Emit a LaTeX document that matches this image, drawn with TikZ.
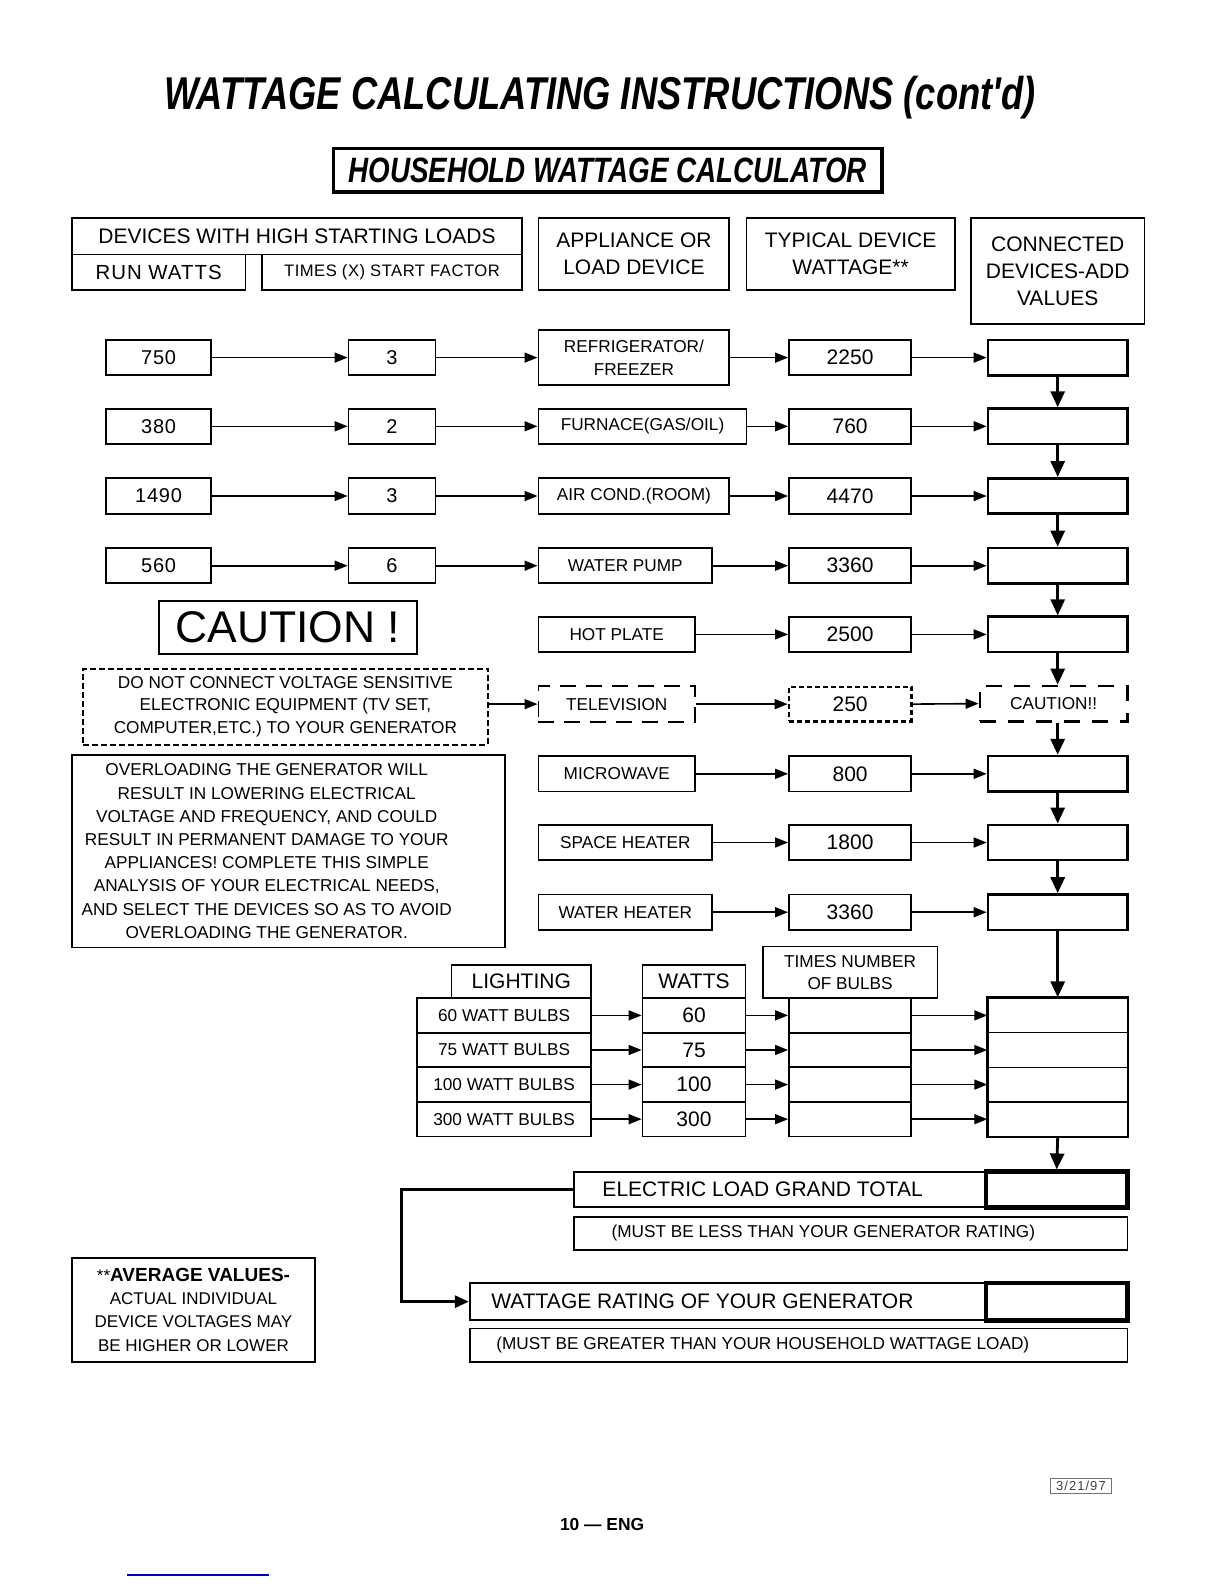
\documentclass[tikz,border=0pt]{standalone}
\usepackage{fontspec}
\usepackage{graphicx}
\setmainfont{Liberation Sans}
\usetikzlibrary{arrows.meta}
\newcommand\fs[2]{\fontsize{#1}{#2}\selectfont}
\newcommand\mybox[7][]{\node[box,minimum width={((#5)-(#3))*0.50495pt},minimum height={((#6)-(#4))*0.50495pt},#1] (#2) at ({((#3)+(#5))/2},{((#4)+(#6))/2}) {#7};}
\tikzset{
  box/.style={draw, line width=0.9pt, inner sep=0pt, align=center, font=\fs{10.5}{13.6}},
  sbox/.style={font=\fs{8.6}{11.2}},
  numbox/.style={font=\fs{10}{12}\addfontfeature{LetterSpace=4}},
  sumbox/.style={line width=1.3pt},
  heavy/.style={line width=2.4pt},
  txt/.style={inner sep=0pt, align=center},
  arr/.style={-{Triangle[length=6.5pt,width=5pt]}, line width=0.8pt},
  varr/.style={-{Triangle[length=8pt,width=7pt]}, line width=1.4pt},
  garr/.style={-{Triangle[length=7pt,width=6pt]}, line width=1.5pt},
}
\newcommand\devrow[5]{%
  \mybox[sbox]{app#1}{533}{#2-17.5}{#3}{#2+17.5}{#4}
  \mybox{wat#1}{781}{#2-17.5}{902}{#2+17.5}{#5}
  \mybox[sumbox]{sum#1}{978}{#2-17.5}{1116}{#2+17.5}{}
  \draw[arr] (app#1.east) -- (wat#1.west);
  \draw[arr] (wat#1.east) -- (sum#1.west);}
\newcommand\runrow[4]{%
  \mybox[numbox]{run#1}{105}{#2-17.5}{209}{#2+17.5}{#3}
  \mybox[numbox]{fac#1}{345}{#2-17.5}{431}{#2+17.5}{#4}
  \draw[arr] (run#1.east) -- (fac#1.west);
  \draw[arr] (fac#1.east) -- (app#1.west |- fac#1.east);}
\begin{document}
\begin{tikzpicture}[x=0.50495pt,y=-0.50495pt]
\useasboundingbox (0,0) rectangle (1212,1568);
% titles
\node[txt, font=\fs{23}{27}\bfseries\itshape] (title) at (594,97) {\scalebox{0.79}[1]{WATTAGE CALCULATING INSTRUCTIONS (cont\textquotesingle d)}};
\node[draw, line width=1.6pt, inner sep=0pt, minimum width={543*0.50495pt}, minimum height={43*0.50495pt}, font=\fs{17.6}{20}\bfseries\itshape] (sub) at (601.5,168.5) {\scalebox{0.79}[1]{HOUSEHOLD WATTAGE CALCULATOR}};
% headers
\mybox{hdev}{71}{216}{517}{252}{DEVICES WITH HIGH STARTING LOADS}
\mybox[font=\fs{10.2}{12}\addfontfeature{LetterSpace=5}]{hrun}{71}{252}{243}{287}{RUN WATTS}
\mybox[font=\fs{8.3}{10}\addfontfeature{LetterSpace=3}]{htimes}{259}{252}{517}{287}{TIMES (X) START FACTOR}
\mybox{happ}{533}{216}{722}{287}{APPLIANCE OR\\LOAD DEVICE}
\mybox{htyp}{739}{216}{945}{287}{TYPICAL DEVICE\\WATTAGE**}
\mybox{hcon}{961}{216}{1133}{321}{CONNECTED\\DEVICES-ADD\\VALUES}
% device rows
\mybox[sbox]{app1}{533}{327}{722}{381}{REFRIGERATOR/\\FREEZER}
\mybox{wat1}{781}{336.5}{902}{371.5}{2250}
\mybox[sumbox]{sum1}{978}{336.5}{1116}{371.5}{}
\draw[arr] (app1.east) -- (wat1.west);
\draw[arr] (wat1.east) -- (sum1.west);
\devrow{2}{422}{739}{FURNACE(GAS/OIL)}{760}
\devrow{3}{491}{722}{AIR COND.(ROOM)}{4470}
\devrow{4}{560}{705}{WATER PUMP}{3360}
\devrow{5}{628}{688}{HOT PLATE}{2500}
\devrow{7}{766}{688}{MICROWAVE}{800}
\devrow{8}{834}{705}{SPACE HEATER}{1800}
\devrow{9}{903}{705}{WATER HEATER}{3360}
% television row (dashed)
\mybox[sbox, dash pattern=on 8pt off 5pt]{app6}{533}{679}{688}{715}{TELEVISION}
\mybox[line width=1.3pt, dash pattern=on 2.5pt off 1.5pt]{wat6}{781}{680}{902}{714}{250}
\mybox[sbox, line width=1.3pt, dash pattern=on 8pt off 6pt]{sum6}{970}{679}{1116}{714}{CAUTION!!}
\draw[arr] (app6.east) -- (wat6.west);
\draw[arr] (wat6.east) -- (sum6.west);
\runrow{1}{354}{750}{3}
\runrow{2}{422}{380}{2}
\runrow{3}{491}{1490}{3}
\runrow{4}{560}{560}{6}
% vertical chain
\foreach \i/\j in {1/2,2/3,3/4,4/5,5/6,6/7,7/8,8/9}
  \draw[varr] (sum\i.south -| sum1.south) -- (sum1.south |- sum\j.north);
% caution
\mybox[font=\fs{22.2}{26}]{caution}{157}{595}{413}{647}{CAUTION !}
\mybox[sbox, line width=1pt, dash pattern=on 3pt off 1.5pt]{warn}{82}{662}{483}{737}{DO NOT CONNECT VOLTAGE SENSITIVE\\ELECTRONIC EQUIPMENT (TV SET,\\COMPUTER,ETC.) TO YOUR GENERATOR}
\draw[arr] (warn.east |- app6.west) -- (app6.west);
\mybox{over}{71}{747}{500}{938}{}
\node[txt, font=\fs{8.6}{11.6}] (overtext) at (264,842.5) {OVERLOADING THE GENERATOR WILL\\RESULT IN LOWERING ELECTRICAL\\VOLTAGE AND FREQUENCY, AND COULD\\RESULT IN PERMANENT DAMAGE TO YOUR\\APPLIANCES! COMPLETE THIS SIMPLE\\ANALYSIS OF YOUR ELECTRICAL NEEDS,\\AND SELECT THE DEVICES SO AS TO AVOID\\OVERLOADING THE GENERATOR.};
% lighting
\mybox{hlight}{447}{955}{585}{988}{LIGHTING}
\mybox{hwatts}{636}{955}{738}{988}{WATTS}
\mybox[sbox]{htnum}{755}{937}{928}{988}{TIMES NUMBER\\OF BULBS}
\foreach \k/\lab/\w in {1/60 WATT BULBS/60, 2/75 WATT BULBS/75, 3/100 WATT BULBS/100, 4/300 WATT BULBS/300} {
  \pgfmathsetmacro\ya{988+(\k-1)*34.25}
  \pgfmathsetmacro\yb{988+\k*34.25}
  \mybox[sbox]{l\k}{413}{\ya}{585}{\yb}{\lab}
  \mybox{w\k}{636}{\ya}{738}{\yb}{\w}
  \mybox{t\k}{781}{\ya}{902}{\yb}{}
  \mybox[line width=0.7pt]{s\k}{978}{\ya}{1116}{\yb}{}
  \draw[arr] (l\k.east) -- (w\k.west);
  \draw[arr] (w\k.east) -- (t\k.west);
  \draw[arr] (t\k.east) -- (s\k.west);
}
\draw[line width=1.3pt] (s1.north west) rectangle (s4.south east);
\draw[varr] (sum9.south) -- (s1.north);
% totals
\mybox{gt}{568}{1160}{1116}{1195}{}
\node[txt, anchor=west, font=\fs{10.5}{12}] (gttext) at (596,1177.5) {ELECTRIC LOAD GRAND TOTAL};
\mybox[heavy]{gtcell}{976}{1160}{1116}{1195}{}
\draw[varr] (s4.south) -- (gtcell.north);
\mybox{less}{568}{1205}{1116}{1237}{}
\node[txt, font=\fs{8.6}{10}] (lesstext) at (815,1221) {(MUST BE LESS THAN YOUR GENERATOR RATING)};
\mybox{wr}{465}{1270}{1116}{1307}{}
\node[txt, anchor=west, font=\fs{10.5}{12}] (wrtext) at (486,1288.5) {WATTAGE RATING OF YOUR GENERATOR};
\mybox[heavy]{wrcell}{976}{1270}{1116}{1307}{}
\mybox{more}{465}{1315}{1116}{1348}{}
\node[txt, anchor=west, font=\fs{8.6}{10}] (moretext) at (491,1331.5) {(MUST BE GREATER THAN YOUR HOUSEHOLD WATTAGE LOAD)};
\coordinate (bend) at (397,1177.5);
\draw[garr] (gt.west) -- (bend) |- (wr.west);
% average values
\mybox[font=\fs{8.5}{11.6}]{avg}{71}{1245}{312}{1348}{**{\fs{9.5}{11.6}\bfseries AVERAGE VALUES-}\\ACTUAL INDIVIDUAL\\DEVICE VOLTAGES MAY\\BE HIGHER OR LOWER}
% footer
\node[draw=black!55, line width=0.5pt, inner sep=0pt, minimum width={60*0.50495pt}, minimum height={14*0.50495pt}, font=\fs{6.5}{8}\addfontfeature{LetterSpace=8}, text=black!75] (date) at (1070,1471) {3/21/97};
\node[txt, font=\fs{8.7}{10}\bfseries] (foot) at (596,1509) {10 — ENG};
\draw[color={rgb,255:red,0;green,0;blue,205}, line width=1pt] (125.7,1559.5) -- (266,1559.5);
\end{tikzpicture}
\end{document}
